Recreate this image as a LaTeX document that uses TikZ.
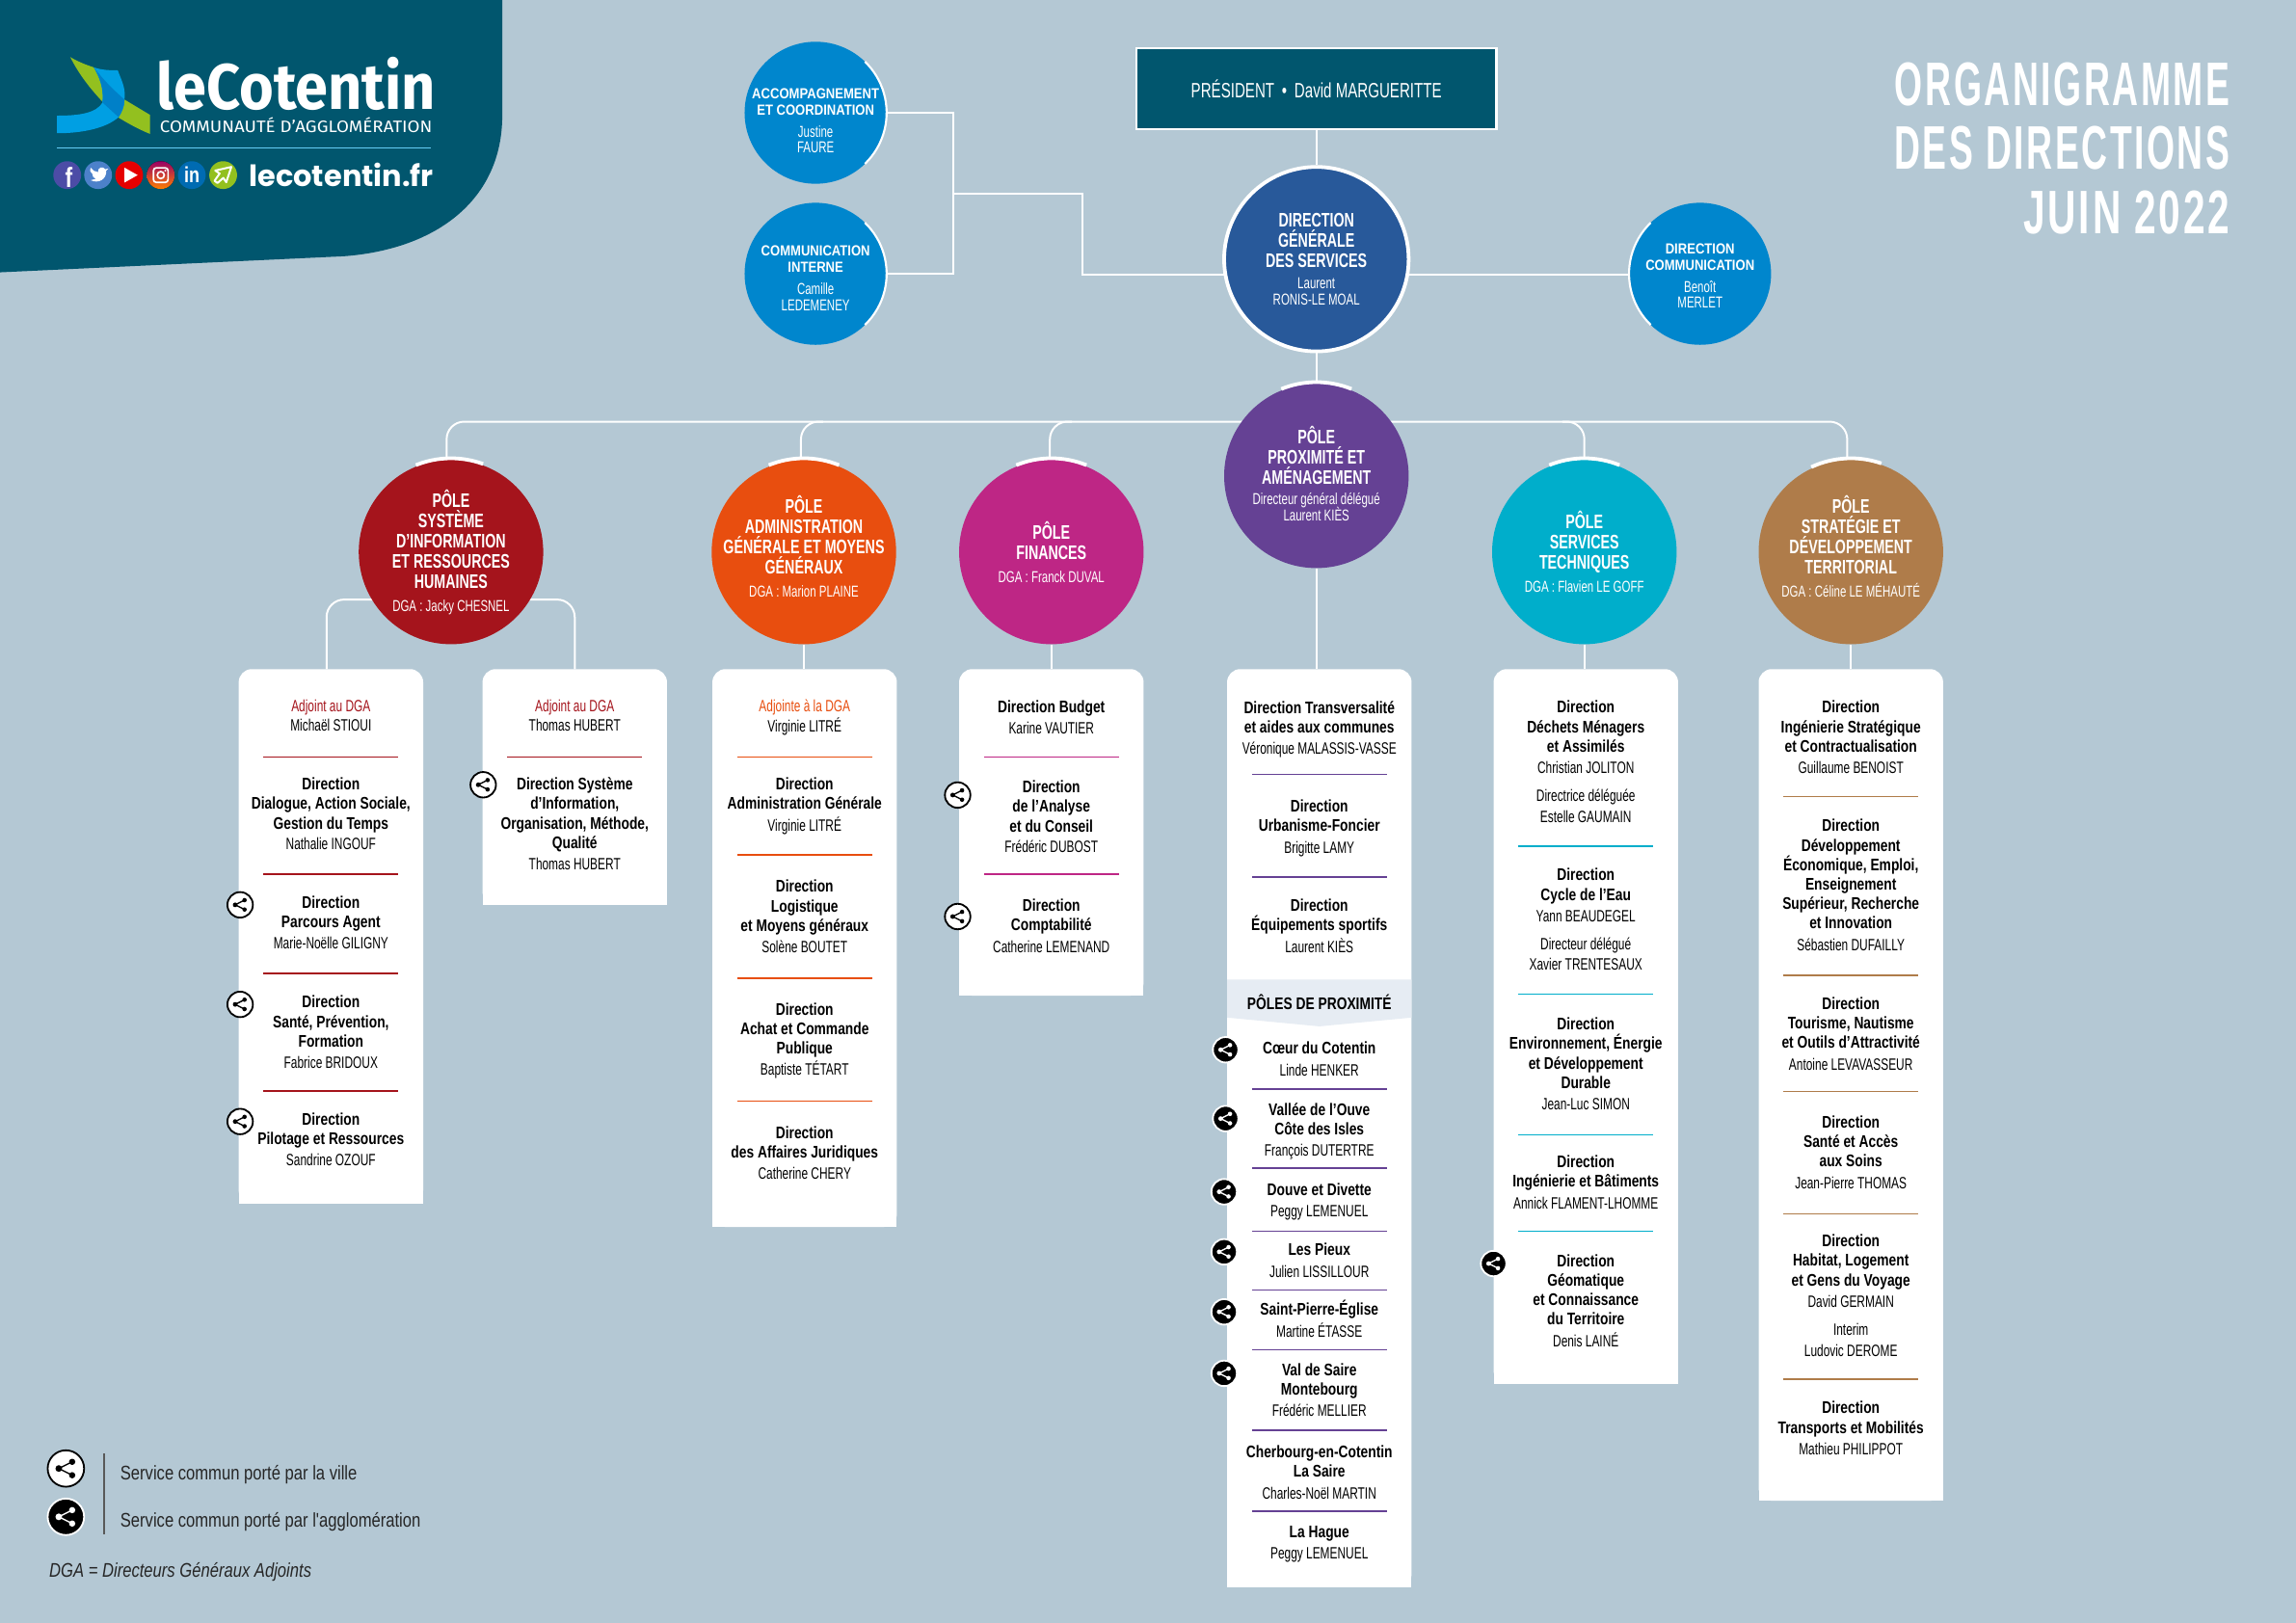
\documentclass[tikz,border=0pt]{standalone}
\usepackage{fontspec}
\usetikzlibrary{backgrounds}
\setmainfont[FakeStretch=0.70]{Liberation Sans}
\newfontfamily\dirfam[FakeStretch=0.79]{Liberation Sans}
\newfontfamily\polefam[FakeStretch=0.70]{Liberation Sans}
\newfontfamily\smallfam[FakeStretch=0.86]{Liberation Sans}
\newfontfamily\legendfam[FakeStretch=0.81]{Liberation Sans}
\newfontfamily\titlefam[FakeStretch=0.585,LetterSpace=4]{Liberation Sans}
\newfontfamily\logofam[FakeStretch=0.916]{Fira Sans}
\newfontfamily\logosub[FakeStretch=1.09]{Fira Sans}
\newfontfamily\webfam{Poppins}
\newcommand{\dirfont}{\dirfam\bfseries\fontsize{11.5}{13.3}\selectfont}
\newcommand{\namefont}{\normalfont\fontsize{11.2}{13.3}\selectfont}
\newcommand{\polefont}{\polefam\bfseries\fontsize{13.4}{13.8}\selectfont}
\newcommand{\smallfont}{\smallfam\bfseries\fontsize{10}{11.3}\selectfont}
\newcommand{\dganame}{\normalfont\fontsize{10.8}{11.2}\selectfont}
\definecolor{pagebg}{HTML}{B4C8D4}
\definecolor{headteal}{HTML}{01566E}
\definecolor{dgsblue}{HTML}{28599A}
\definecolor{comblue}{HTML}{0086CD}
\definecolor{polered}{HTML}{A5141C}
\definecolor{poleorange}{HTML}{E84E0F}
\definecolor{polepink}{HTML}{BE2685}
\definecolor{polepurple}{HTML}{654194}
\definecolor{polecyan}{HTML}{00AECB}
\definecolor{polebrown}{HTML}{AF7C4A}
\definecolor{logogreen}{HTML}{93C01F}
\definecolor{logoblue}{HTML}{009FE3}
\definecolor{logomid}{HTML}{0080C8}
\definecolor{bandgrey}{HTML}{E6ECF3}
\newcommand{\shareglyph}[1]{
  \draw[#1,line width=0.9pt] (3,-3.2)--(-3.4,0)--(3,3.2);
  \fill[#1] (3,-3.2) circle[radius=1.5] (3,3.2) circle[radius=1.5] (-3.4,0) circle[radius=1.6];
}
\newcommand{\cardbox}[3]{
  \node[cardnode,minimum height={(#3-457)*1pt}] (#1) at (#2,{(457+#3)/2}) {};
  \fill[white] (#1.west) rectangle (#1.south east);
}
\tikzset{
  x=1pt,y=-1pt,
  link/.style={draw=white,line width=1.3pt},
  bendlink/.style={link,rounded corners=12pt},
  ringarc/.style={draw=white,line width=2.5pt},
  thinarc/.style={draw=white,line width=1.4pt},
  polenode/.style={circle,fill=#1,minimum size=126pt,inner sep=0pt,text=white,align=center,font=\polefont},
  smallnode/.style={circle,fill=comblue,minimum size=97pt,inner sep=0pt},
  smalltext/.style={inner sep=0pt,text=white,align=center,font=\smallfont},
  cardnode/.style={rectangle,fill=white,rounded corners=9pt,minimum width=126pt,inner sep=0pt,outer sep=0pt},
  block/.style={anchor=north,yshift=4pt,inner sep=0pt,align=center,text=black,font=\dirfont,execute at begin node={\rule{0pt}{12pt}}},
  sepline/.style={line width=1.1pt},
  legendtext/.style={anchor=west,inner sep=0pt,text=black!85,font=\legendfam\fontsize{13.5}{15}\selectfont},
  pics/sharecity/.style={code={
    \fill[white] (0,0) circle[radius=8.7];
    \draw[black,line width=1.2pt] (0,0) circle[radius=8.7];
    \shareglyph{black}
  }},
  pics/shareagglo/.style={code={
    \fill[black] (0,0) circle[radius=8.7];
    \draw[white,line width=1.2pt] (0,0) circle[radius=8.7];
    \shareglyph{white}
  }},
}
\begin{document}
\begin{tikzpicture}
\useasboundingbox (0,0) rectangle (1568,1108.5);
\begin{scope}[on background layer]
\fill[pagebg] (0,0) rectangle (1568,1108.5);
\fill[headteal] (0,0)--(343,0)--(343,79) .. controls (343,135) and (300,170) .. (235,175)--(0,186)--cycle;
\end{scope}
% logo
\fill[logogreen] (48,39) .. controls (53,42) and (58,44) .. (64,46) .. controls (68,53) and (71,60) .. (70.5,70) .. controls (62,61) and (54,51) .. (48,39);
\fill[logogreen] (85,68)--(102.5,78.5)--(102.5,91.5) .. controls (94,88) and (87,84) .. (80.4,80)--cycle;
\fill[logoblue] (39,79) .. controls (55,79) and (66,77) .. (70,70) .. controls (71,60) and (68,53) .. (64,46) .. controls (70,48) and (75,48) .. (80.4,48) .. controls (83,55) and (86,60) .. (85,68) .. controls (85,73) and (83,77) .. (81,80) .. controls (72,88) and (55,91) .. (39,91)--cycle;
\fill[logomid] (64.7,46.5) .. controls (70,54) and (77,61) .. (85,68) .. controls (85,73) and (83,77) .. (81,80)--(70,70) .. controls (71,60) and (68,53) .. (64.7,46.5);
\node (logoname) [anchor=base west,inner sep=0pt,text depth=0pt,text=white,font=\logofam\bfseries\fontsize{44}{44}\selectfont] at (107,74.6) {leCotentin};
\node (logosubname) [anchor=base west,inner sep=0pt,text height=8pt,text depth=0pt,text=white,font=\logosub\fontsize{11.3}{12}\selectfont] at (109,90.4) {COMMUNAUTÉ D’AGGLOMÉRATION};
\draw[cyan!60!white,line width=0.7pt] (38.8,101)--(294,101);
\node (weburl) [anchor=base west,inner sep=0pt,text=white,font=\webfam\bfseries\fontsize{20}{20}\selectfont] at (170,127.4) {lecotentin.fr};
% social icons
\fill[blue!50!black!70!white] (45.9,119.6) circle[radius=9.5];
\node (fbglyph) [inner sep=0pt,text=white,font=\dirfam\bfseries\fontsize{19}{19}\selectfont] at (47,121) {f};
\fill[cyan!45!blue!75!white] (67,119.6) circle[radius=9.5];
\begin{scope}[shift={(67,119.6)}]
\fill[white] (-5,3.5) .. controls (0,6) and (6,3) .. (5.5,-3)--(7,-4.5)--(5,-4) .. controls (3,-6.5) and (-0.5,-5) .. (0,-2) .. controls (-2,-2) and (-4,-3.5) .. (-5,-5) .. controls (-6,-3) and (-5,-1.5) .. (-4,-1) .. controls (-4,1) and (-3,2) .. (-1.5,2.5) .. controls (-3,3.5) .. cycle;
\end{scope}
\fill[red!90!black] (88.2,119.6) circle[radius=9.5];
\fill[white] (85,114.5)--(94,119.6)--(85,124.7)--cycle;
\fill[top color=purple!80!blue,bottom color=orange] (109.8,119.6) circle[radius=9.5];
\draw[white,line width=1.1pt,rounded corners=2pt] (104.8,114.6) rectangle (114.8,124.6);
\draw[white,line width=1.1pt] (109.8,119.6) circle[radius=2.4];
\fill[white] (112.9,116.5) circle[radius=0.7];
\fill[blue!40!cyan!70!black] (131,119.6) circle[radius=9.5];
\node (inglyph) [inner sep=0pt,text=white,font=\dirfam\bfseries\fontsize{15}{15}\selectfont] at (131,119.6) {in};
\fill[logogreen] (152.4,119.6) circle[radius=9.5];
\draw[white,line width=1.3pt,line join=round] (158,114)--(147,116.5)--(150,118.5)--(146.5,123.5)--(148.5,125)--(152.5,121.5)--(154.5,124.5)--cycle;
% title
\node (titleA) [anchor=base east,inner sep=0pt,text=white,font=\titlefam\bfseries\fontsize{42}{42}\selectfont] at (1523,72) {ORGANIGRAMME};
\node (titleB) [anchor=base east,inner sep=0pt,text=white,font=\titlefam\bfseries\fontsize{42}{42}\selectfont] at (1523,115.5) {DES DIRECTIONS};
\node (titleC) [anchor=base east,inner sep=0pt,text=white,font=\titlefam\bfseries\fontsize{42}{42}\selectfont] at (1523,159.5) {\scalebox{1.09}[1]{JUIN 2022}};
% top of the chart
\node (pres) [rectangle,fill=headteal,draw=white,line width=1.5pt,minimum width=246pt,minimum height=55pt,text=white,font=\normalfont\fontsize{14.2}{16}\selectfont] at (899,60.5) {PRÉSIDENT\, • \,David MARGUERITTE};
\node (dgs) [polenode=dgsblue,draw=white,line width=2.5pt] at (899,177) {DIRECTION\\GÉNÉRALE\\DES SERVICES\\[1.2pt]\dganame Laurent\\[-2.8pt]\dganame RONIS-LE MOAL};
\node (acc) [smallnode] at (557,77) {};
\node (acctext) [smalltext] at (557,82.5) {ACCOMPAGNEMENT\\ET COORDINATION\\[3.7pt]\dganame Justine\\[-0.3pt]\dganame FAURE};
\node (com) [smallnode] at (557,187) {};
\node (comtext) [smalltext] at (557,190) {COMMUNICATION\\INTERNE\\[3.7pt]\dganame Camille\\[-0.3pt]\dganame LEDEMENEY};
\node (dircom) [smallnode] at (1161,187) {};
\node (dircomtext) [smalltext] at (1161,188.5) {DIRECTION\\COMMUNICATION\\[3.7pt]\dganame Benoît\\[-0.3pt]\dganame MERLET};
% poles
\node (prox) [polenode=polepurple] at (899,325) {PÔLE\\PROXIMITÉ ET\\AMÉNAGEMENT\\[0.2pt]\dganame Directeur général délégué\\[-2.8pt]\dganame Laurent KIÈS\rule[-3.5pt]{0pt}{0pt}};
\node (psys) [polenode=polered] at (308,377) {PÔLE\\SYSTÈME\\D’INFORMATION\\ET RESSOURCES\\HUMAINES\\[2pt]\dganame DGA : Jacky CHESNEL};
\node (padm) [polenode=poleorange] at (549,377) {PÔLE\\ADMINISTRATION\\\makebox[80pt]{GÉNÉRALE ET MOYENS}\\GÉNÉRAUX\\[2pt]\dganame DGA : Marion PLAINE\rule[-8pt]{0pt}{0pt}};
\node (pfin) [polenode=polepink] at (718,377) {PÔLE\\FINANCES\\[2pt]\dganame DGA : Franck DUVAL};
\node (ptec) [polenode=polecyan] at (1082,377) {PÔLE\\SERVICES\\TECHNIQUES\\[2pt]\dganame DGA : Flavien LE GOFF};
\node (pstr) [polenode=polebrown] at (1264,377) {PÔLE\\STRATÉGIE ET\\DÉVELOPPEMENT\\TERRITORIAL\\[2pt]\dganame DGA : Céline LE MÉHAUTÉ\rule[-8pt]{0pt}{0pt}};
\draw[ringarc] (psys.center) ++(248:64) arc (248:290:64);
\draw[ringarc] (padm.center) ++(248:64) arc (248:292:64);
\draw[ringarc] (pfin.center) ++(248:64) arc (248:292:64);
\draw[ringarc] (prox.center) ++(248:64) arc (248:292:64);
\draw[ringarc] (ptec.center) ++(248:64) arc (248:292:64);
\draw[ringarc] (pstr.center) ++(245:64) arc (245:289:64);
\draw[thinarc] (acc.center) ++(-46:48.5) arc (-46:46:48.5);
\draw[thinarc] (com.center) ++(-46:48.5) arc (-46:46:48.5);
\draw[thinarc] (dircom.center) ++(134:48.5) arc (134:226:48.5);
% cards
\cardbox{cardsysa}{226}{822}
\cardbox{cardsysb}{392.5}{618}
\cardbox{cardadm}{549.5}{838}
\cardbox{cardfin}{718}{680}
\cardbox{cardprox}{901}{1084}
\cardbox{cardtec}{1083}{945}
\cardbox{cardstr}{1264}{1025}
\fill[bandgrey] (838,669)--(964,669)--(964,695)--(901,701)--(838,695)--cycle;
% connectors
\coordinate (busacc) at (651,132);
\coordinate (busdgs) at (739,187.5);
\coordinate (branchl) at (223,409.5);
\coordinate (branchr) at (392.5,409.5);
\coordinate (treel) at (305,288);
\coordinate (treer) at (1261.5,288);
\begin{scope}[on background layer]
\draw[link] (pres)--(dgs);
\draw[link] (dgs)--(prox);
\draw[link] (acc)-|(busacc)|-(com);
\draw[link] (busacc)-|(busdgs)--(busdgs-|dgs);
\draw[link] (busdgs-|dgs)--(busdgs-|dircom);
\draw[bendlink] (psys.north-|treel)--(treel)--(treer)--(pstr.north-|treer);
\draw[bendlink] (547,314)--(547,288)--(562,288);
\draw[bendlink] (717,314)--(717,288)--(732,288);
\draw[bendlink] (1082,314)--(1082,288)--(1067,288);
\draw[bendlink] (cardsysa.north-|branchl)--(branchl)--(branchr)--(cardsysb.north);
\draw[link] (padm)--(padm|-cardadm.north);
\draw[link] (pfin)--(pfin|-cardfin.north);
\draw[link] (prox)--(prox|-cardprox.north);
\draw[link] (ptec)--(ptec|-cardtec.north);
\draw[link] (pstr)--(pstr|-cardstr.north);
\end{scope}
% separators
\foreach \y in {517,597,665,745} \draw[sepline,polered] (180,\y)--(272,\y);
\draw[sepline,polered] (346.5,517)--(438.5,517);
\foreach \y in {517,584,668,752} \draw[sepline,poleorange] (503.5,\y)--(595.5,\y);
\foreach \y in {517,597} \draw[sepline,polepink] (672,\y)--(764,\y);
\foreach \y in {529,599,744,798,841,881,922,977,1032} \draw[sepline,polepurple] (855,\y)--(947,\y);
\foreach \y in {578,679,775,841} \draw[sepline,polecyan] (1037,\y)--(1129,\y);
\foreach \y in {544,666,745.5,829,942} \draw[sepline,polebrown] (1218,\y)--(1310,\y);
% card texts
\node[block] (sysadj) at (226,482) {\namefont\textcolor{polered}{Adjoint au DGA}\\\namefont Michaël STIOUI};
\node[block] (sysdia) at (226,535) {Direction\\Dialogue, Action Sociale,\\Gestion du Temps\\[1pt]\namefont Nathalie INGOUF};
\node[block] (syspar) at (226,616) {Direction\\Parcours Agent\\[1pt]\namefont Marie-Noëlle GILIGNY};
\node[block] (syssan) at (226,684) {Direction\\Santé, Prévention,\\Formation\\[1pt]\namefont Fabrice BRIDOUX};
\node[block] (syspil) at (226,764) {Direction\\Pilotage et Ressources\\[1pt]\namefont Sandrine OZOUF};
\node[block] (infadj) at (392.5,482) {\namefont\textcolor{polered}{Adjoint au DGA}\\\namefont Thomas HUBERT};
\node[block] (infsys) at (392.5,535) {Direction Système\\d’Information,\\Organisation, Méthode,\\Qualité\\[1pt]\namefont Thomas HUBERT};
\node[block] (admadj) at (549.5,482) {\namefont\textcolor{poleorange}{Adjointe à la DGA}\\\namefont Virginie LITRÉ};
\node[block] (admgen) at (549.5,535) {Direction\\Administration Générale\\[1.5pt]\namefont Virginie LITRÉ};
\node[block] (admlog) at (549.5,605) {Direction\\Logistique\\et Moyens généraux\\[1pt]\namefont Solène BOUTET};
\node[block] (admach) at (549.5,689) {Direction\\Achat et Commande\\Publique\\[1pt]\namefont Baptiste TÉTART};
\node[block] (admjur) at (549.5,773) {Direction\\des Affaires Juridiques\\[1pt]\namefont Catherine CHERY};
\node[block] (finbud) at (718,482) {Direction Budget\\[1.5pt]\namefont Karine VAUTIER};
\node[block] (finana) at (718,537) {Direction\\de l’Analyse\\et du Conseil\\[1pt]\namefont Frédéric DUBOST};
\node[block] (fincom) at (718,618) {Direction\\Comptabilité\\[1.5pt]\namefont Catherine LEMENAND};
\node[block] (prxtra) at (901,482.5) {Direction Transversalité\\et aides aux communes\\[1.5pt]\namefont Véronique MALASSIS-VASSE};
\node[block] (prxurb) at (901,550) {Direction\\Urbanisme-Foncier\\[1.5pt]\namefont Brigitte LAMY};
\node[block] (prxequ) at (901,618) {Direction\\Équipements sportifs\\[1.5pt]\namefont Laurent KIÈS};
\node[block] (prxband) at (901,681.5) {PÔLES DE PROXIMITÉ};
\node[block] (prxcoe) at (901,715.5) {Cœur du Cotentin\\[1.5pt]\namefont Linde HENKER};
\node[block] (prxval) at (901,757) {Vallée de l’Ouve\\Côte des Isles\\[1.5pt]\namefont François DUTERTRE};
\node[block] (prxdou) at (901,812) {Douve et Divette\\[1.5pt]\namefont Peggy LEMENUEL};
\node[block] (prxpie) at (901,853) {Les Pieux\\[1.5pt]\namefont Julien LISSILLOUR};
\node[block] (prxspe) at (901,892) {Saint-Pierre-Église\\[1.5pt]\namefont Martine ÉTASSE};
\node[block] (prxsai) at (901,935) {Val de Saire\\Montebourg\\[1.5pt]\namefont Frédéric MELLIER};
\node[block] (prxche) at (901,991) {Cherbourg-en-Cotentin\\La Saire\\[1.5pt]\namefont Charles-Noël MARTIN};
\node[block] (prxhag) at (901,1046) {La Hague\\[1.5pt]\namefont Peggy LEMENUEL};
\node[block] (tecdec) at (1083,482.5) {Direction\\Déchets Ménagers\\et Assimilés\\[1.5pt]\namefont Christian JOLITON\\[5.5pt]\namefont Directrice déléguée\\[1.5pt]\namefont Estelle GAUMAIN};
\node[block] (teccyc) at (1083,597) {Direction\\Cycle de l’Eau\\[1.5pt]\namefont Yann BEAUDEGEL\\[5.5pt]\namefont Directeur délégué\\[1pt]\namefont Xavier TRENTESAUX};
\node[block] (tecenv) at (1083,699) {Direction\\Environnement, Énergie\\et Développement\\Durable\\[1.5pt]\namefont Jean-Luc SIMON};
\node[block] (tecing) at (1083,793) {Direction\\Ingénierie et Bâtiments\\[1.5pt]\namefont Annick FLAMENT-LHOMME};
\node[block] (tecgeo) at (1083,860.5) {Direction\\Géomatique\\et Connaissance\\du Territoire\\[1.5pt]\namefont Denis LAINÉ};
\node[block] (string) at (1264,482.5) {Direction\\Ingénierie Stratégique\\et Contractualisation\\[1.5pt]\namefont Guillaume BENOIST};
\node[block] (strdev) at (1264,563.5) {Direction\\Développement\\Économique, Emploi,\\Enseignement\\Supérieur, Recherche\\et Innovation\\[1.5pt]\namefont Sébastien DUFAILLY};
\node[block] (strtou) at (1264,685) {Direction\\Tourisme, Nautisme\\et Outils d’Attractivité\\[1.5pt]\namefont Antoine LEVAVASSEUR};
\node[block] (strsan) at (1264,766) {Direction\\Santé et Accès\\aux Soins\\[1.5pt]\namefont Jean-Pierre THOMAS};
\node[block] (strhab) at (1264,847) {Direction\\Habitat, Logement\\et Gens du Voyage\\[1.5pt]\namefont David GERMAIN\\[5.5pt]\namefont Interim\\[1.5pt]\namefont Ludovic DEROME};
\node[block] (strtra) at (1264,961) {Direction\\Transports et Mobilités\\[1.5pt]\namefont Mathieu PHILIPPOT};
% share icons
\foreach \x/\y in {164/618,164/686,164/766,330/536,654/543,654/626} \pic at (\x,\y) {sharecity};
\foreach \x/\y in {837/717,837/764,836/814,836/855,836/896,836/938,1020/863} \pic at (\x,\y) {shareagglo};
% legend
\pic[scale=1.43] at (45,1003) {sharecity};
\pic[scale=1.43] at (45,1036) {shareagglo};
\draw[black!65,line width=1.2pt] (71,992.7)--(71,1047.8);
\node[legendtext] (legcity) at (82,1007) {Service commun porté par la ville};
\node[legendtext] (legagglo) at (82,1039.5) {Service commun porté par l'agglomération};
\node[legendtext] (legdga) at (33.5,1073.5) {\itshape DGA = Directeurs Généraux Adjoints};
\end{tikzpicture}
\end{document}
